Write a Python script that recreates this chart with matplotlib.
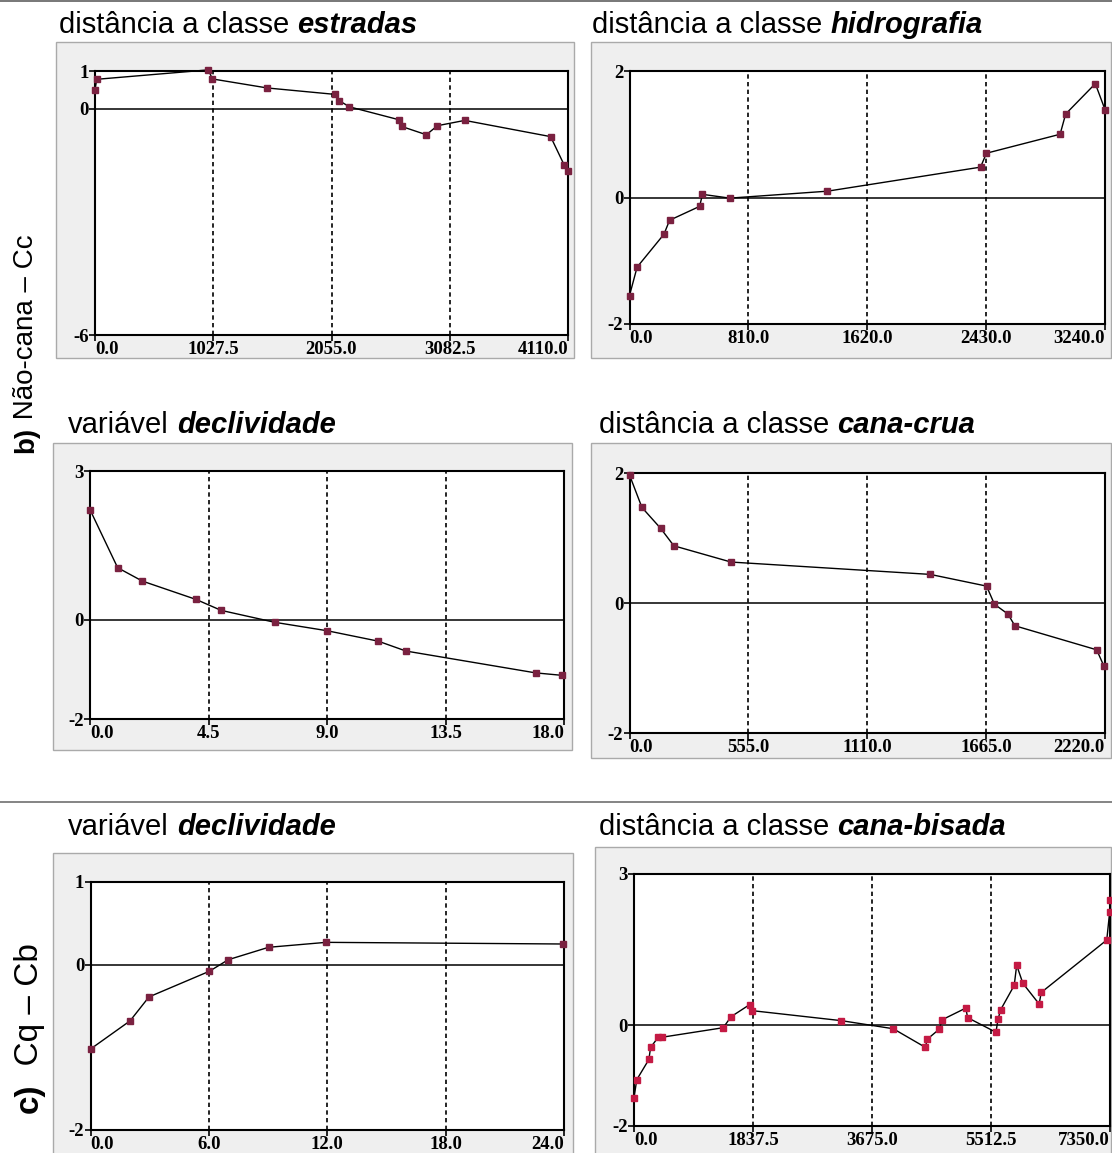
import matplotlib
matplotlib.use("Agg")
import matplotlib.pyplot as plt
from matplotlib.patches import Rectangle
from matplotlib.lines import Line2D

W, H, DPI = 1112, 1153, 100

# ---------------- data ----------------
estradas_x = [0, 15, 986, 1019, 1497, 2085, 2124, 2211, 2638, 2664, 2879, 2976, 3213, 3959, 4078, 4110]
estradas_y = [0.50, 0.78, 1.03, 0.79, 0.55, 0.38, 0.21, 0.05, -0.29, -0.47, -0.69, -0.45, -0.31, -0.74, -1.50, -1.65]
estradas_xticks = [0, 1027.5, 2055, 3082.5, 4110]
estradas_xlabels = ["0.0", "1027.5", "2055.0", "3082.5", "4110.0"]

hidro_x = [0, 52, 235, 273, 478, 497, 683, 1349, 2392, 2432, 2934, 2972, 3174, 3240]
hidro_y = [-1.55, -1.10, -0.58, -0.36, -0.14, 0.05, -0.01, 0.10, 0.48, 0.70, 1.00, 1.32, 1.80, 1.39]
hidro_xticks = [0, 810, 1620, 2430, 3240]
hidro_xlabels = ["0.0", "810.0", "1620.0", "2430.0", "3240.0"]

decl_b_x = [0, 1.05, 1.99, 4.03, 4.98, 7.01, 9.0, 10.94, 12.0, 16.92, 17.93]
decl_b_y = [2.22, 1.05, 0.78, 0.41, 0.19, -0.05, -0.22, -0.43, -0.63, -1.07, -1.12]
decl_b_xticks = [0, 4.5, 9.0, 13.5, 18.0]
decl_b_xlabels = ["0.0", "4.5", "9.0", "13.5", "18.0"]

crua_x = [0, 58, 145, 207, 474, 1404, 1667, 1704, 1767, 1799, 2181, 2215]
crua_y = [1.97, 1.47, 1.15, 0.88, 0.63, 0.44, 0.26, -0.02, -0.17, -0.35, -0.72, -0.97]
crua_xticks = [0, 555, 1110, 1665, 2220]
crua_xlabels = ["0.0", "555.0", "1110.0", "1665.0", "2220.0"]

decl_c_x = [0, 2.0, 2.96, 6.02, 6.98, 9.02, 11.94, 23.94]
decl_c_y = [-1.02, -0.68, -0.39, -0.08, 0.06, 0.21, 0.27, 0.25]
decl_c_xticks = [0, 6, 12, 18, 24]
decl_c_xlabels = ["0.0", "6.0", "12.0", "18.0", "24.0"]

bisada_x = [0, 43, 230, 256, 374, 427, 1377, 1500, 1788, 1815, 3203, 4003, 4500, 4526,
            4713, 4761, 5124, 5151, 5589, 5621, 5663, 5871, 5909, 6005, 6256, 6288,
            7300, 7345, 7350]
bisada_y = [-1.44, -1.08, -0.68, -0.44, -0.24, -0.24, -0.05, 0.17, 0.41, 0.29, 0.09, -0.07,
            -0.44, -0.28, -0.08, 0.11, 0.34, 0.15, -0.14, 0.12, 0.31, 0.79, 1.19, 0.83,
            0.42, 0.65, 1.69, 2.25, 2.49]
bisada_xticks = [0, 1837.5, 3675, 5512.5, 7350]
bisada_xlabels = ["0.0", "1837.5", "3675.0", "5512.5", "7350.0"]

# ---------------- styling ----------------
SANS = "Liberation Sans"
TICKFONT = dict(family="Liberation Serif", weight="bold", size=13.5)
TITLE_SIZE = 21
MARK = "#7a2140"
MARK_BRIGHT = "#c41a44"

fig = plt.figure(figsize=(W / DPI, H / DPI), dpi=DPI)
fig.patch.set_facecolor("white")
renderer = fig.canvas.get_renderer()


def fx(px):
    return px / W


def fy(py):
    return 1 - py / H


def frame(l, t, r, b):
    fig.add_artist(Rectangle((fx(l), fy(b)), fx(r - l), (b - t) / H,
                             transform=fig.transFigure, facecolor="#efefef",
                             edgecolor="#aaaaaa", lw=1.0, zorder=0))


def title(x, base, normal, bold):
    t1 = fig.text(fx(x), fy(base), normal, family=SANS, fontsize=TITLE_SIZE,
                  ha="left", va="baseline")
    bb = t1.get_window_extent(renderer)
    gap = 0.278 * TITLE_SIZE * DPI / 72
    fig.text((bb.x1 + gap) / W, fy(base), bold, family=SANS, fontsize=TITLE_SIZE,
             weight="bold", style="italic", ha="left", va="baseline")


def panel(box, xs, ys, xticks, xlabels, ylim, yticks, color):
    l, t, r, b = box
    ax = fig.add_axes([fx(l), fy(b), (r - l) / W, (b - t) / H])
    ax.set_facecolor("white")
    ax.set_xlim(xticks[0], xticks[-1])
    ax.set_ylim(*ylim)
    for xv in xticks[1:-1]:
        ax.axvline(xv, color="black", lw=1.2, ls=(0, (2.6, 2.0)), zorder=1)
    ax.axhline(0, color="black", lw=1.1, zorder=1)
    ax.plot(xs, ys, color="black", lw=1.0, zorder=3, clip_on=False)
    ax.plot(xs, ys, ls="none", marker="s", ms=4.0, mfc=color, mec=color,
            zorder=4, clip_on=False)
    ax.set_xticks(xticks)
    ax.set_xticklabels(xlabels, fontdict=TICKFONT)
    ax.set_yticks(yticks)
    ax.set_yticklabels([str(v) for v in yticks], fontdict=TICKFONT)
    labs = ax.get_xticklabels()
    labs[0].set_ha("left")
    labs[-1].set_ha("right")
    ax.tick_params(direction="out", length=4, width=1.2, pad=0.5, color="black")
    for s in ax.spines.values():
        s.set_linewidth(1.5)
        s.set_color("black")
    return ax


# outer panel frames
frame(56, 42, 574, 358)
frame(591, 42, 1111, 358)
frame(53, 443, 572, 750)
frame(591, 443, 1111, 758)
frame(53, 853, 573, 1165)
frame(595, 847, 1111, 1165)

# separators
fig.add_artist(Line2D([0, 1], [fy(1), fy(1)], transform=fig.transFigure,
                      color="#606060", lw=1.2))
fig.add_artist(Line2D([0, 1], [fy(802), fy(802)], transform=fig.transFigure,
                      color="#707070", lw=1.2))

# panels
panel((95, 71, 568, 335), estradas_x, estradas_y, estradas_xticks, estradas_xlabels,
      (-6, 1), [1, 0, -6], MARK)
panel((629.5, 71, 1105, 324), hidro_x, hidro_y, hidro_xticks, hidro_xlabels,
      (-2, 2), [2, 0, -2], MARK)
panel((90, 471, 564, 719), decl_b_x, decl_b_y, decl_b_xticks, decl_b_xlabels,
      (-2, 3), [3, 0, -2], MARK)
panel((629.5, 473, 1105, 733), crua_x, crua_y, crua_xticks, crua_xlabels,
      (-2, 2), [2, 0, -2], MARK)
panel((90.6, 882, 564, 1130), decl_c_x, decl_c_y, decl_c_xticks, decl_c_xlabels,
      (-2, 1), [1, 0, -2], MARK)
panel((634, 874, 1110, 1126), bisada_x, bisada_y, bisada_xticks, bisada_xlabels,
      (-2, 3), [3, 0, -2], MARK_BRIGHT)

# titles
title(59, 33, "distância a classe", "estradas")
title(592, 33, "distância a classe", "hidrografia")
title(68, 433, "variável", "declividade")
title(599, 433, "distância a classe", "cana-crua")
title(68, 835, "variável", "declividade")
title(599, 835, "distância a classe", "cana-bisada")


# rotated row labels
def row_label(x, bottom, tag, text, size):
    t1 = fig.text(fx(x), fy(bottom), tag, family=SANS, fontsize=size, weight="bold",
                  rotation=90, rotation_mode="anchor", ha="left", va="baseline")
    bb = t1.get_window_extent(renderer)
    fig.text(fx(x), bb.y1 / H, text, family=SANS, fontsize=size,
             rotation=90, rotation_mode="anchor", ha="left", va="baseline")


row_label(33, 453, "b)", " Não-cana – Cc", 20)
row_label(38, 1113, "c)", "  Cq – Cb", 24)

fig.savefig("out.png", dpi=DPI)
